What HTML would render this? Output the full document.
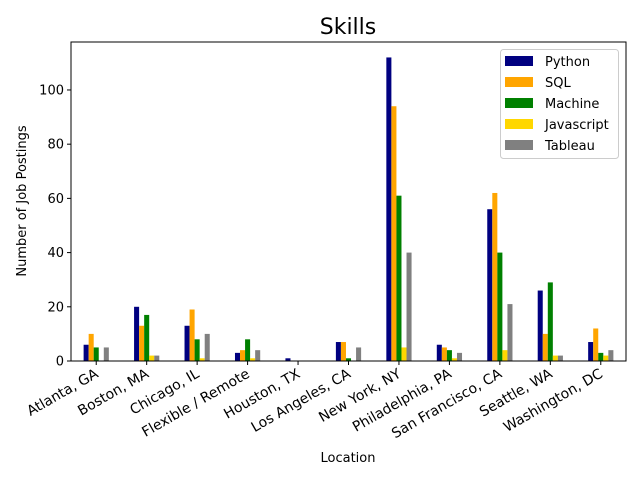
<!DOCTYPE html>
<html><head><meta charset="utf-8"><style>body{margin:0;background:#fff}svg{font-family:"DejaVu Sans","Liberation Sans",sans-serif}</style></head>
<body>
<svg id="chart" width="640" height="480" xmlns="http://www.w3.org/2000/svg">
<rect width="640" height="480" fill="#fff"/>
<text x="348" y="34" font-size="22" text-anchor="middle">Skills</text>
<g id="bars"></g>
<g id="yaxis"></g>
<g id="xaxis"></g>
<rect x="71" y="42" width="555" height="319" fill="none" stroke="#000" stroke-width="1"/>
<text x="348" y="462" font-size="13" text-anchor="middle">Location</text>
<text transform="translate(26,201) rotate(-90)" font-size="13" text-anchor="middle">Number of Job Postings</text>
<g id="legend">
<rect x="500.5" y="49.5" width="118" height="109" rx="3" fill="#fff" fill-opacity="0.8" stroke="#ccc"/>
</g>
</svg>
<script>
const categories = ["Atlanta, GA","Boston, MA","Chicago, IL","Flexible / Remote","Houston, TX","Los Angeles, CA","New York, NY","Philadelphia, PA","San Francisco, CA","Seattle, WA","Washington, DC"];
const seriesNames = ["Python","SQL","Machine","Javascript","Tableau"];
const python = [6,20,13,3,1,7,112,6,56,26,7];
const sql = [10,13,19,4,0,7,94,5,62,10,12];
const machine = [5,17,8,8,0,1,61,4,40,29,3];
const javascript = [0,2,1,1,0,0,5,1,4,2,2];
const tableau = [5,2,10,4,0,5,40,3,21,2,4];
const yTicks = [0,20,40,60,80,100];
const colors = ["#000080","#ffa500","#008000","#ffd700","#808080"];
const series = [python, sql, machine, javascript, tableau];
const NS = "http://www.w3.org/2000/svg";
const L=71,R=626,T=42,B=361,yMax=117.7;
const xs = i => L + (i + 0.5) * (R - L) / categories.length;
const ys = v => B - v / yMax * (B - T);
const unit = (R - L) / categories.length;
const bw = unit * 0.1;
function mk(tag, attrs, parent){const e=document.createElementNS(NS,tag);for(const k in attrs)e.setAttribute(k,attrs[k]);parent.appendChild(e);return e;}
const bars = document.getElementById('bars');
series.forEach((s, si) => {
  s.forEach((v, i) => {
    const x = xs(i) - 0.25 * unit + si * bw;
    const r = mk('rect', {x: x, y: ys(v), width: bw, height: B - ys(v), fill: colors[si]}, bars);
    
    
  });
});
const ya = document.getElementById('yaxis');
yTicks.forEach(t => {
  const y = ys(t);
  const l = mk('line', {x1: L - 4, x2: L, y1: y, y2: y, stroke: '#000'}, ya);
  
  
  const tx = mk('text', {x: L - 7, y: y + 4.5, 'font-size': 13, 'text-anchor': 'end'}, ya);
  tx.textContent = t;
  
  
});
const xa = document.getElementById('xaxis');
categories.forEach((c, i) => {
  const x = xs(i);
  const l = mk('line', {x1: x, x2: x, y1: B, y2: B + 4, stroke: '#000'}, xa);
  
  
  const tx = mk('text', {transform: 'translate(' + (x - 3) + ',' + (B + 5) + ') rotate(-30)', x: 0, y: 12, 'font-size': 14, 'text-anchor': 'end'}, xa);
  tx.textContent = c;
  
  
});
const lg = document.getElementById('legend');
seriesNames.forEach((n, si) => {
  const cy = 61 + si * 21;
  const p = mk('rect', {x: 505, y: cy - 5, width: 28, height: 10, fill: colors[si]}, lg);
  
  
  const t = mk('text', {x: 545, y: cy + 5, 'font-size': 13}, lg);
  t.textContent = n;
  
  
});
</script>
</body></html>
